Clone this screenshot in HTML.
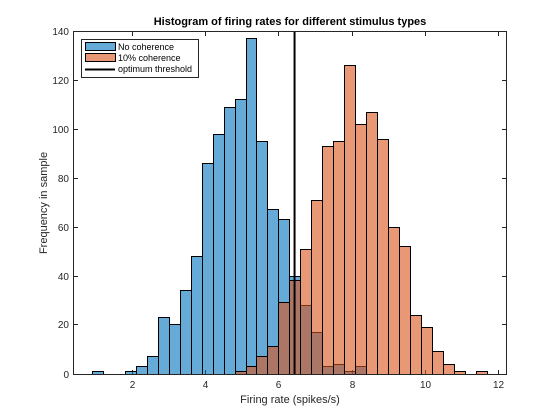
<!DOCTYPE html>
<html>
<head>
<meta charset="utf-8">
<style>
html,body{margin:0;padding:0;background:#fff;}
svg{display:block;}
text{font-family:"Liberation Sans",Arial,sans-serif;fill:#262626;}
</style>
</head>
<body>
<svg id="chart" width="560" height="420" viewBox="0 0 560 420" xmlns="http://www.w3.org/2000/svg">
  <rect x="0" y="0" width="560" height="420" fill="#fff"/>
  <rect x="73.5" y="31.5" width="433" height="343" fill="#fff"/>
  <g id="ticks"></g>
  <g id="bars-none"></g>
  <g id="bars-ten"></g>
  <g id="threshold"></g>
  <rect x="73.5" y="31.5" width="433" height="343" fill="none" stroke="#262626" stroke-width="1"/>
  <text x="290" y="25" font-size="11" font-weight="bold" fill="#000" text-anchor="middle" style="fill:#000">Histogram of firing rates for different stimulus types</text>
  <text x="290" y="403" font-size="11" text-anchor="middle">Firing rate (spikes/s)</text>
  <text transform="translate(47 203) rotate(-90)" font-size="11" text-anchor="middle">Frequency in sample</text>
  <g>
    <rect x="81.5" y="39.5" width="117" height="38" fill="#fff" stroke="#262626" stroke-width="1"/>
    <rect x="85.5" y="42.5" width="30" height="8" fill="#66AAD7" stroke="#000" stroke-width="1"/>
    <text x="118" y="50" font-size="9" style="fill:#000">No coherence</text>
    <rect x="85.5" y="53.5" width="30" height="8" fill="#E89875" stroke="#000" stroke-width="1"/>
    <text x="118" y="61" font-size="9" style="fill:#000">10% coherence</text>
    <line x1="85" y1="69.5" x2="115" y2="69.5" stroke="#000" stroke-width="2"/>
    <text x="118" y="72" font-size="9" style="fill:#000">optimum threshold</text>
  </g>
</svg>
<script>
// Chart data
var binWidth = 0.3;
var noCoherenceStart = 0.9;
var noCoherenceCounts = [1,0,0,1,3,7,23,20,34,48,86,98,109,112,137,95,67,63,40,28,17,3,4,1,3];
var tenCoherenceStart = 4.8;
var tenCoherenceCounts = [1,3,7,11,29,38,51,71,93,95,126,102,107,96,60,52,24,19,9,4,1,0,1];
var optimumThreshold = 6.44;
var xTickValues = [2,4,6,8,10,12];
var yTickValues = [0,20,40,60,80,100,120,140];

var svgNS = 'http://www.w3.org/2000/svg';
var xDomainMin = 0.381, xDomainMax = 12.239;
var yDomainMin = 0, yDomainMax = 140;

function xScale(v){ return 72.8 + (v - xDomainMin) / (xDomainMax - xDomainMin) * 434; }
function yScale(v){ return 373.8 - (v - yDomainMin) / (yDomainMax - yDomainMin) * 342.3; }
function snapX(v){ return Math.round(xScale(v)) + 0.5; }
function snapY(v){ return v === 0 ? 374.5 : Math.floor(yScale(v)) + 0.5; }
function make(tag, attrs, parent){
  var el = document.createElementNS(svgNS, tag);
  for (var k in attrs) el.setAttribute(k, attrs[k]);
  parent.appendChild(el);
  return el;
}

function drawBars(groupId, start, counts, fill, label){
  var g = document.getElementById(groupId);
  
  
  counts.forEach(function(c, i){
    if (c === 0) return;
    var left = start + i * binWidth;
    var x0 = snapX(left), x1 = snapX(left + binWidth), y = snapY(c);
    var r = make('rect', {x:x0, y:y, width:x1 - x0, height:374.5 - y, fill:fill, 'fill-opacity':0.6, stroke:'#000', 'stroke-width':1}, g);
    
    
  });
}

var tickGroup = document.getElementById('ticks');


xTickValues.forEach(function(v){
  var x = snapX(v);
  var t1 = make('line', {x1:x, x2:x, y1:374, y2:370, stroke:'#262626', 'stroke-width':1}, tickGroup);
  
  
  var t2 = make('line', {x1:x, x2:x, y1:32, y2:36, stroke:'#262626', 'stroke-width':1}, tickGroup);
  
  
  var lab = make('text', {x:x, y:388, 'font-size':10, 'text-anchor':'middle'}, tickGroup);
  
  
  lab.textContent = v;
});
yTickValues.forEach(function(v){
  var y = snapY(v);
  var t1 = make('line', {x1:74, x2:78, y1:y, y2:y, stroke:'#262626', 'stroke-width':1}, tickGroup);
  
  
  var t2 = make('line', {x1:506, x2:502, y1:y, y2:y, stroke:'#262626', 'stroke-width':1}, tickGroup);
  
  
  var lab = make('text', {x:69, y:y + 3.5, 'font-size':10, 'text-anchor':'end'}, tickGroup);
  
  
  lab.textContent = v;
});

drawBars('bars-none', noCoherenceStart, noCoherenceCounts, 'rgb(0,114,189)', 'no-coherence');
drawBars('bars-ten', tenCoherenceStart, tenCoherenceCounts, 'rgb(217,83,25)', 'ten-percent-coherence');

var thGroup = document.getElementById('threshold');
var thLine = make('line', {x1:xScale(optimumThreshold), x2:xScale(optimumThreshold), y1:31.5, y2:374.5, stroke:'#000', 'stroke-width':2}, thGroup);


</script>
</body>
</html>
